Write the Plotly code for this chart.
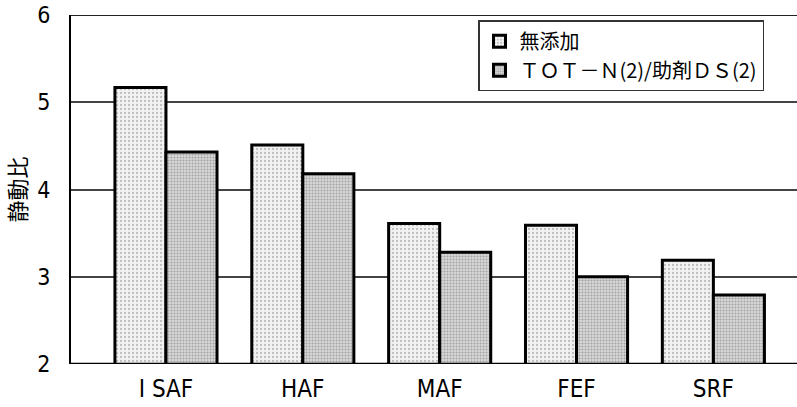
import plotly.graph_objects as go

categories = ["I SAF", "HAF", "MAF", "FEF", "SRF"]
series_names = ["無添加", "ＴＯＴ－Ｎ(2)/助剤ＤＳ(2)"]
values_none = [5.17, 4.51, 3.61, 3.59, 3.19]
values_tot = [4.43, 4.18, 3.28, 3.00, 2.79]
y_ticks = [2, 3, 4, 5, 6]

num_font = "DejaVu Sans Condensed, Liberation Sans Narrow, Liberation Sans, sans-serif"
cjk_font = "Noto Sans CJK JP, Noto Sans CJK SC, sans-serif"

fig = go.Figure()
fig.add_trace(go.Bar(
    name=series_names[0], x=categories, y=values_none, base=0,
    marker=dict(color="#ececec", line=dict(color="black", width=3),
                pattern=dict(shape=".", fgcolor="#8a8a8a", bgcolor="#f2f2f2",
                             size=4, solidity=0.25)),
))
fig.add_trace(go.Bar(
    name=series_names[1], x=categories, y=values_tot, base=0,
    marker=dict(color="#cfcfcf", line=dict(color="black", width=3),
                pattern=dict(shape=".", fgcolor="#6e6e6e", bgcolor="#d6d6d6",
                             size=3, solidity=0.35)),
))

fig.update_layout(
    width=797, height=407,
    margin=dict(l=71, r=0, t=15, b=43),
    paper_bgcolor="white", plot_bgcolor="white",
    barmode="group", bargap=0.254, bargroupgap=0,
    showlegend=True,
    legend=dict(x=(478 - 71) / 726, y=0.985, xanchor="left", yanchor="top",
                bgcolor="white", bordercolor="#333333", borderwidth=1.5,
                font=dict(family=cjk_font, size=20, color="black"),
                tracegroupgap=0, itemwidth=30),
    xaxis=dict(range=[-0.694, 4.611], showgrid=False, showline=False,
               ticks="", ticklabelstandoff=8, automargin=False,
               tickfont=dict(family=num_font, size=24, color="black")),
    yaxis=dict(range=[2, 6], tickvals=y_ticks, showgrid=True,
               gridcolor="#444444", gridwidth=1.5, zeroline=False,
               showline=True, linecolor="black", linewidth=2,
               ticks="", ticklabelstandoff=14, automargin=False,
               tickfont=dict(family=num_font, size=23, color="black"),
               title=dict(text="静動比", standoff=12,
                          font=dict(family=cjk_font, size=22, color="black"))),
)
# bottom axis line at y=2 and top line at y=6
fig.add_shape(type="line", xref="paper", yref="y", x0=0, x1=1, y0=2, y1=2,
              line=dict(color="black", width=2.5), layer="above")
fig.add_shape(type="line", xref="paper", yref="y", x0=0, x1=1, y0=6, y1=6,
              line=dict(color="#222222", width=2), layer="below")

fig.write_html("out.html", config={"displayModeBar": False},
               post_script="document.body.style.margin='0';"
                           "document.body.style.overflow='hidden';")
